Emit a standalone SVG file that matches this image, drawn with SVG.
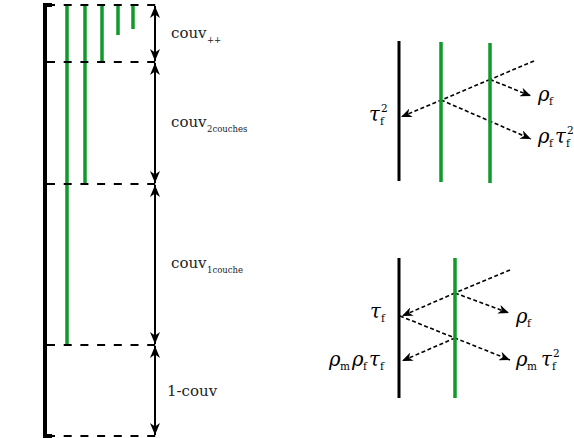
<svg xmlns="http://www.w3.org/2000/svg" width="574" height="438" viewBox="0 0 574 438">
<style>
.blk{stroke:#000;stroke-width:4;fill:none}
.blk3{stroke:#000;stroke-width:3;fill:none}
.grn{stroke:#0f9a2b;stroke-width:3.5;fill:none}
.dash{stroke:#000;stroke-width:2;stroke-dasharray:8 8.7;fill:none}
.dbl{stroke:#000;stroke-width:2;fill:none;marker-start:url(#ah);marker-end:url(#ah)}
.ray{stroke:#000;stroke-width:1.6;stroke-dasharray:4 2.5;fill:none}
.rayA{stroke:#000;stroke-width:1.6;stroke-dasharray:4 2.5;fill:none;marker-end:url(#ah2)}
.lab{font-family:'DejaVu Serif',serif;font-size:15px;fill:#222}
.lsub{font-family:'DejaVu Serif',serif;font-size:8.5px;fill:#222}
.m{font-family:'DejaVu Serif',serif;font-size:19.5px;font-style:italic;fill:#000}
.s{font-family:'DejaVu Serif',serif;font-size:10.5px;fill:#000}
</style>
<defs>
<marker id="ah" viewBox="0 0 12 10" refX="12" refY="5" markerWidth="12" markerHeight="10" markerUnits="userSpaceOnUse" orient="auto-start-reverse"><path d="M0,0 L12,5 L0,10 L3.5,5 Z" fill="#000"/></marker>
<marker id="ah2" viewBox="0 0 12 10" refX="12" refY="5" markerWidth="12" markerHeight="9" markerUnits="userSpaceOnUse" orient="auto"><path d="M0,0 L12,5 L0,10 L3.5,5 Z" fill="#000"/></marker>
</defs>

<g id="left-panel">
<line class="blk" x1="45" y1="4" x2="45" y2="437"/>
<line class="blk" x1="43" y1="5" x2="52" y2="5"/>
<line class="blk" x1="43" y1="436" x2="52" y2="436"/>
<line class="grn" x1="67" y1="5" x2="67" y2="345"/>
<line class="grn" x1="85" y1="5" x2="85" y2="184"/>
<line class="grn" x1="102" y1="5" x2="102" y2="62"/>
<line class="grn" x1="118" y1="5" x2="118" y2="35"/>
<line class="grn" x1="133" y1="5" x2="133" y2="29"/>
<line class="dash" x1="47" y1="5" x2="160" y2="5"/>
<line class="dash" x1="47" y1="62" x2="160" y2="62"/>
<line class="dash" x1="47" y1="184" x2="160" y2="184"/>
<line class="dash" x1="47" y1="345" x2="160" y2="345"/>
<line class="dash" x1="47" y1="436" x2="160" y2="436"/>
</g>

<g id="connectors">
<line class="dbl" x1="155" y1="6" x2="155" y2="61"/>
<line class="dbl" x1="155" y1="63" x2="155" y2="183"/>
<line class="dbl" x1="155" y1="185" x2="155" y2="344"/>
<line class="dbl" x1="155" y1="346" x2="155" y2="435"/>
<line class="ray" x1="534" y1="61" x2="490" y2="79.5"/>
<line class="rayA" x1="490" y1="79.5" x2="401" y2="117"/>
<line class="rayA" x1="490" y1="79.5" x2="531" y2="96"/>
<line class="rayA" x1="441" y1="100" x2="531" y2="139"/>
<line class="ray" x1="510" y1="270" x2="455" y2="293"/>
<line class="rayA" x1="455" y1="293" x2="402" y2="316"/>
<line class="rayA" x1="455" y1="293" x2="509" y2="313"/>
<line class="rayA" x1="400" y1="316" x2="510" y2="360"/>
<line class="rayA" x1="455" y1="338" x2="402" y2="361"/>
</g>

<g id="label-couv-pp">
<text class="lab" x="171" y="38">couv</text><text class="lsub" x="207" y="43">++</text>
</g>
<g id="label-couv-2">
<text class="lab" x="171" y="127">couv</text><text class="lsub" x="207" y="132">2couches</text>
</g>
<g id="label-couv-1">
<text class="lab" x="171" y="268">couv</text><text class="lsub" x="207" y="273">1couche</text>
</g>
<g id="label-1-couv">
<text class="lab" x="167" y="396">1-couv</text>
</g>

<g id="right-top">
<line class="blk3" x1="399" y1="41" x2="399" y2="181"/>
<line class="grn" x1="441" y1="42" x2="441" y2="182"/>
<line class="grn" x1="490" y1="43" x2="490" y2="183"/>
<text class="m" x="369" y="121">τ</text><text class="s" x="380" y="125">f</text><text class="s" x="381" y="112">2</text>
<text class="m" x="538" y="101">ρ</text><text class="s" x="549" y="105">f</text>
<text class="m" x="538" y="143">ρ</text><text class="s" x="549" y="147">f</text><text class="m" x="555" y="143">τ</text><text class="s" x="566" y="147">f</text><text class="s" x="567" y="134">2</text>
</g>

<g id="right-bottom">
<line class="blk3" x1="399" y1="258" x2="399" y2="398"/>
<line class="grn" x1="455" y1="258" x2="455" y2="398"/>
<text class="m" x="370" y="318">τ</text><text class="s" x="381" y="322">f</text>
<text class="m" x="329" y="366">ρ</text><text class="s" x="340" y="370">m</text><text class="m" x="352" y="366">ρ</text><text class="s" x="363" y="370">f</text><text class="m" x="369" y="366">τ</text><text class="s" x="380" y="370">f</text>
<text class="m" x="516" y="323">ρ</text><text class="s" x="527" y="327">f</text>
<text class="m" x="516" y="366">ρ</text><text class="s" x="527" y="370">m</text><text class="m" x="541" y="366">τ</text><text class="s" x="552" y="370">f</text><text class="s" x="553" y="357">2</text>
</g>
</svg>
